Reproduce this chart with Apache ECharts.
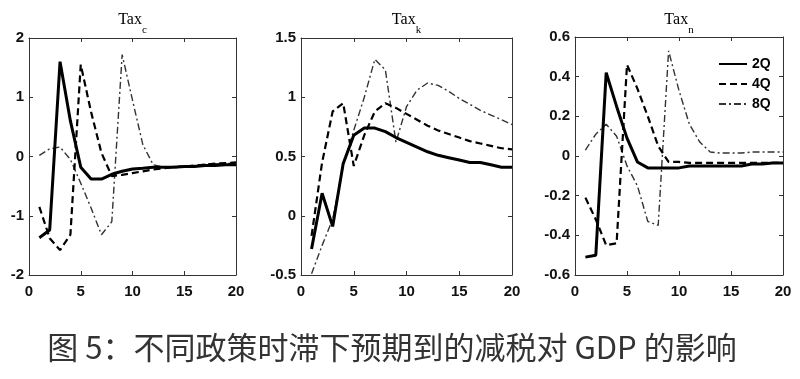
<!DOCTYPE html>
<html><head><meta charset="utf-8">
<script src="https://cdn.jsdelivr.net/npm/echarts@6/dist/echarts.min.js"></script>
<style>html,body{margin:0;padding:0;background:#fff}#c{width:800px;height:379px}</style>
</head><body><div id="c"></div>
<script>
// ---- data ----
var quarters = [1,2,3,4,5,6,7,8,9,10,11,12,13,14,15,16,17,18,19,20];
var seriesNames = ['2Q','4Q','8Q'];
var panelTitles = ['c','k','n'];
var caption = '图 5：不同政策时滞下预期到的减税对 GDP 的影响';

var taxC_2Q = [-1.37,-1.24,1.60,0.60,-0.18,-0.38,-0.38,-0.30,-0.25,-0.21,-0.20,-0.18,-0.18,-0.18,-0.17,-0.17,-0.15,-0.15,-0.14,-0.14];
var taxC_4Q = [-0.85,-1.38,-1.58,-1.32,1.55,0.75,0.06,-0.33,-0.31,-0.28,-0.25,-0.22,-0.20,-0.18,-0.17,-0.15,-0.14,-0.12,-0.11,-0.10];
var taxC_8Q = [0.02,0.13,0.16,-0.05,-0.45,-0.87,-1.32,-1.10,1.72,0.95,0.20,-0.14,-0.18,-0.17,-0.16,-0.15,-0.13,-0.12,-0.12,-0.11];

var taxK_2Q = [-0.28,0.19,-0.09,0.44,0.68,0.74,0.74,0.71,0.66,0.62,0.58,0.54,0.51,0.49,0.47,0.45,0.45,0.43,0.41,0.41];
var taxK_4Q = [-0.17,0.45,0.88,0.95,0.42,0.68,0.88,0.95,0.91,0.86,0.81,0.76,0.72,0.69,0.66,0.63,0.61,0.59,0.57,0.56];
var taxK_8Q = [-0.49,-0.25,-0.03,0.42,0.72,1.00,1.32,1.23,0.62,0.92,1.06,1.12,1.10,1.05,0.99,0.94,0.89,0.85,0.81,0.77];

var taxN_2Q = [-0.51,-0.50,0.42,0.25,0.09,-0.03,-0.06,-0.06,-0.06,-0.06,-0.05,-0.05,-0.05,-0.05,-0.05,-0.05,-0.04,-0.04,-0.035,-0.035];
var taxN_4Q = [-0.21,-0.32,-0.45,-0.44,0.46,0.34,0.20,0.05,-0.03,-0.03,-0.035,-0.035,-0.035,-0.035,-0.035,-0.035,-0.035,-0.035,-0.035,-0.035];
var taxN_8Q = [0.03,0.11,0.16,0.10,-0.05,-0.15,-0.33,-0.35,0.53,0.33,0.16,0.07,0.02,0.015,0.015,0.015,0.02,0.02,0.02,0.02];

var yMin = [-2,-0.5,-0.6], yMax = [2,1.5,0.6], yInterval = [1,0.5,0.2];
var xMin = 0, xMax = 20, xInterval = 5;

// ---- layout ----
var grids = [
  {left:29, top:38, width:207, height:237},
  {left:301, top:38, width:211, height:237},
  {left:575, top:37, width:208, height:238}
];
var panelData = [[taxC_2Q,taxC_4Q,taxC_8Q],[taxK_2Q,taxK_4Q,taxK_8Q],[taxN_2Q,taxN_4Q,taxN_8Q]];
var lineStyles = [
  {color:'#000', width:3, type:'solid'},
  {color:'#000', width:2.2, type:[7,4]},
  {color:'#333', width:1.4, type:[7,3,2,3]}
];
var labelFont = {color:'#111', fontFamily:'Arial, Liberation Sans', fontWeight:'bold', fontSize:15};

var xAxes=[], yAxes=[], series=[], graphics=[];
grids.forEach(function(g,i){
  var base = {gridIndex:i, type:'value', min:xMin, max:xMax, interval:xInterval,
    splitLine:{show:false}, axisLine:{show:true,onZero:false,lineStyle:{color:'#333',width:1}},
    axisTick:{show:true,inside:true,length:4,lineStyle:{color:'#333'}}};
  xAxes.push(Object.assign({}, base, {position:'bottom', axisLabel:Object.assign({margin:9, showMinLabel:true, showMaxLabel:true}, labelFont)}));
  xAxes.push(Object.assign({}, base, {position:'top', axisLabel:{show:false}}));
  var ybase = {gridIndex:i, type:'value', min:yMin[i], max:yMax[i], interval:yInterval[i],
    splitLine:{show:false}, axisLine:{show:true,onZero:false,lineStyle:{color:'#333',width:1}},
    axisTick:{show:true,inside:true,length:4,lineStyle:{color:'#333'}}};
  yAxes.push(Object.assign({}, ybase, {position:'left', axisLabel:Object.assign({margin:5, showMinLabel:true, showMaxLabel:true}, labelFont)}));
  yAxes.push(Object.assign({}, ybase, {position:'right', axisLabel:{show:false}}));
  panelData[i].forEach(function(vals,k){
    series.push({
      type:'line', name:seriesNames[k], xAxisIndex:2*i, yAxisIndex:2*i,
      data: quarters.map(function(q,j){return [q, vals[j]];}),
      showSymbol:false, symbol:'none', animation:false, silent:true,
      lineStyle: lineStyles[k], itemStyle:{color:lineStyles[k].color}, z: 3-k
    });
  });
  var cx = g.left + g.width/2;
  graphics.push({type:'text', x:cx, y:12, style:{
    text:'{a|Tax}{b|'+panelTitles[i]+'}', align:'center', verticalAlign:'top',
    rich:{a:{fontFamily:'Liberation Serif', fontSize:16, color:'#000', verticalAlign:'bottom', padding:[0,0,8,0]},
          b:{fontFamily:'Liberation Serif', fontSize:11, color:'#000', verticalAlign:'bottom'}}
  }});
});
graphics.push({type:'text', x:392, y:347, style:{text:caption, align:'center', verticalAlign:'middle',
  fontFamily:'Noto Sans CJK SC', fontSize:31, fill:'#333'}});

var chart = echarts.init(document.getElementById('c'), null, {renderer:'canvas'});
chart.setOption({
  animation:false,
  grid: grids,
  xAxis: xAxes, yAxis: yAxes, series: series,
  legend: {show:true, data:seriesNames, orient:'vertical', left:713, top:52, itemWidth:28, itemHeight:14, itemGap:6,
    itemStyle:{opacity:0},
    textStyle:{fontFamily:'Arial, Liberation Sans', fontWeight:'bold', fontSize:14, color:'#000'},
    selectedMode:false},
  graphic: graphics
});
</script></body></html>
